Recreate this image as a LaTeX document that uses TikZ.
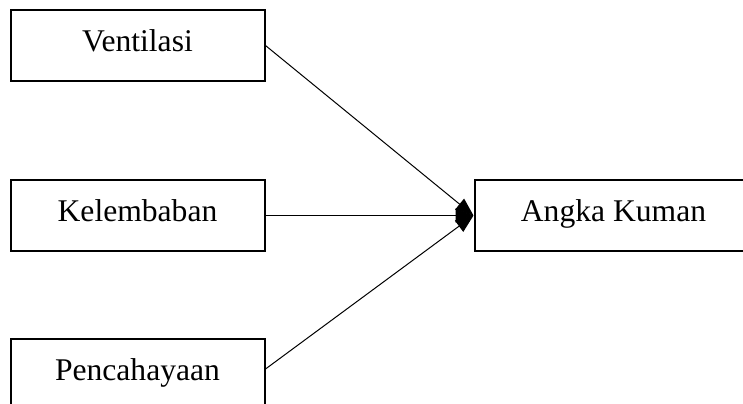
\documentclass[tikz,border=0pt]{standalone}
\usepackage{fontspec}
\setmainfont{Liberation Serif}
\usetikzlibrary{positioning,arrows.meta}
\tikzset{varbox/.style={rectangle,draw=black,line width=1pt,minimum width=127pt,
minimum height=35.5pt,inner sep=0pt,text height=11pt,text depth=5.5pt,
font=\fontsize{15.8}{19}\selectfont},
link/.style={line width=0.5pt},
>={Triangle[length=9pt,width=7pt]}}

\begin{document}
\begin{tikzpicture}[x=0.5pt,y=-0.5pt]
    \useasboundingbox (0,0) rectangle (743,403);

    \node (ven) [varbox] at (137.5,45.5) {Ventilasi};
    \node (kel) [varbox, below = 48.5pt of ven] {Kelembaban};
    \node (pen) [varbox, below = 43pt of kel] {Pencahayaan};
    \node (ak) [varbox, minimum width=145pt, right = 104pt of kel] {\hspace*{-6pt}Angka Kuman};

    \draw [link,->] (ven.east) -- (ak.west);
    \draw [link,->] (kel.east) -- (ak.west);
    \draw [link,->] ([yshift=2.75pt]pen.east) -- (ak.west);

\end{tikzpicture}
\end{document}
